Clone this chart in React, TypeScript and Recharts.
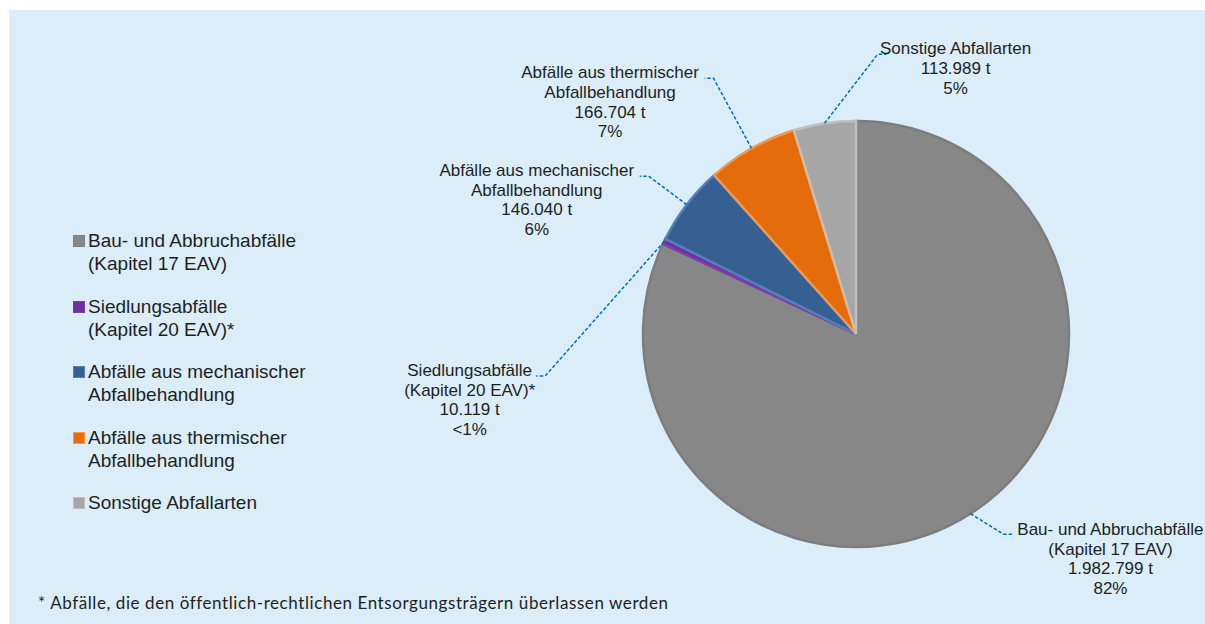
import { Cell, Legend, Pie, PieChart } from "recharts";

const categories = [
  "Bau- und Abbruchabfälle (Kapitel 17 EAV)",
  "Siedlungsabfälle (Kapitel 20 EAV)*",
  "Abfälle aus mechanischer Abfallbehandlung",
  "Abfälle aus thermischer Abfallbehandlung",
  "Sonstige Abfallarten",
];
const tonnes = [1982799, 10119, 146040, 166704, 113989];
const nameLines = [
  ["Bau- und Abbruchabfälle", "(Kapitel 17 EAV)"],
  ["Siedlungsabfälle", "(Kapitel 20 EAV)*"],
  ["Abfälle aus mechanischer", "Abfallbehandlung"],
  ["Abfälle aus thermischer", "Abfallbehandlung"],
  ["Sonstige Abfallarten"],
];
const footnote = "* Abfälle, die den öffentlich-rechtlichen Entsorgungsträgern überlassen werden";

const fills = ["#878787", "#7030A0", "#376092", "#E46C0A", "#A6A6A6"];
const borders = ["#7D7D7D", "#7A3FAE", "#4F81BD", "#F79646", "#BFBFBF"];

// leader line elbow (from slice edge), direction of the short horizontal, text centre offset
const labelLayout = [
  { ex: 33, ey: 20.5, dir: 1, tx: 98, by: 1 },
  { ex: -119, ey: 134.5, dir: -1, tx: -66.5, by: 0 },
  { ex: -38, ey: -28.5, dir: -1, tx: -103, by: 0 },
  { ex: -38, ey: -70, dir: -1, tx: -94.5, by: 0 },
  { ex: 53, ey: -69, dir: 1, tx: 69, by: 0 },
];

const data = categories.map((name, i) => ({ name, value: tonnes[i] }));
const total = tonnes.reduce((a, b) => a + b, 0);

const fmt = (n: number) => String(n).replace(/\B(?=(\d{3})+(?!\d))/g, ".");
const pct = (v: number) => {
  const p = Math.round((v / total) * 100);
  return p < 1 ? "<1%" : `${p}%`;
};

const RAD = Math.PI / 180;

function renderLabel(props: any) {
  const { cx, cy, midAngle, outerRadius, index } = props;
  const l = labelLayout[index];
  const sx = cx + outerRadius * Math.cos(-midAngle * RAD);
  const sy = cy + outerRadius * Math.sin(-midAngle * RAD);
  const mx = sx + l.ex;
  const my = sy + l.ey;
  const endX = mx + l.dir * 9;
  const lines = [...nameLines[index], `${fmt(tonnes[index])} t`, pct(tonnes[index])];
  return (
    <g key={`lbl-${index}`}>
      <polyline
        points={`${sx},${sy} ${mx},${my} ${endX},${my}`}
        fill="none"
        stroke="#0070C0"
        strokeWidth={1.5}
        strokeDasharray="3.5 2"
      />
      <text
        x={endX + l.tx}
        y={my + l.by}
        textAnchor="middle"
        fontFamily="'Liberation Sans', Arial, sans-serif"
        fontSize={17}
        fill="#1f1f1f"
      >
        {lines.map((t, k) => (
          <tspan key={k} x={endX + l.tx} dy={k === 0 ? 0 : 19.6}>
            {t}
          </tspan>
        ))}
      </text>
    </g>
  );
}

function LegendBox() {
  return (
    <div style={{ fontFamily: "'Liberation Sans', Arial, sans-serif", fontSize: 19, color: "#1f1f1f" }}>
      {nameLines.map((lines, i) => (
        <div key={i} style={{ position: "absolute", left: 0, top: i * 65.5, display: "flex" }}>
          <div
            style={{
              width: 10,
              height: 10,
              marginTop: 6,
              marginRight: 3,
              background: fills[i],
              border: `1.5px solid ${borders[i]}`,
              flex: "none",
            }}
          />
          <div style={{ lineHeight: "23.3px", whiteSpace: "nowrap" }}>
            {lines.map((t, k) => (
              <div key={k}>{t}</div>
            ))}
          </div>
        </div>
      ))}
    </div>
  );
}

export default function App() {
  return (
    <div
      style={{
        position: "absolute",
        left: 9,
        top: 10,
        width: 1196,
        height: 614,
        background: "#DAEDF8",
        overflow: "hidden",
      }}
    >
      <PieChart width={1196} height={614} margin={{ top: 0, right: 0, bottom: 0, left: 0 }}>
        <Legend
          content={() => <LegendBox />}
          wrapperStyle={{ position: "absolute", left: 64, top: 219, width: 300, height: 300 }}
        />
        <Pie
          data={data}
          dataKey="value"
          nameKey="name"
          cx={847}
          cy={324}
          outerRadius={213}
          startAngle={90}
          endAngle={-270}
          strokeWidth={2.5}
          label={renderLabel}
          labelLine={false}
          isAnimationActive={false}
        >
          {data.map((d, i) => (
            <Cell key={d.name} fill={fills[i]} stroke={borders[i]} />
          ))}
        </Pie>
      </PieChart>
      <div
        style={{
          position: "absolute",
          left: 29,
          top: 582,
          fontFamily: "Lato, 'Open Sans', sans-serif",
          fontSize: 17,
          letterSpacing: 0.58,
          color: "#1f1f1f",
          whiteSpace: "nowrap",
        }}
      >
        {footnote}
      </div>
    </div>
  );
}
